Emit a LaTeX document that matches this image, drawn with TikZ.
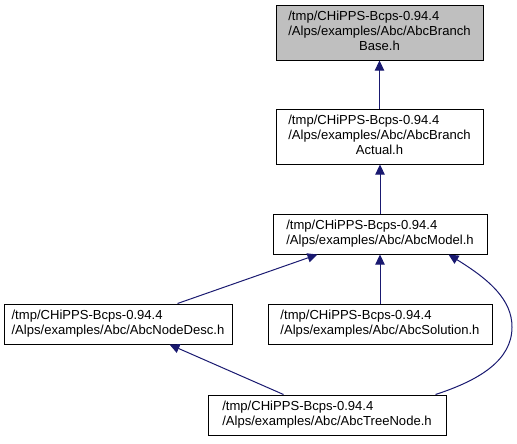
\documentclass[tikz,border=0pt]{standalone}
\usepackage{fontspec}
\setmainfont{Liberation Sans}
\usetikzlibrary{arrows.meta,calc}
\definecolor{edgeblue}{RGB}{25,25,112}
\definecolor{basegrey}{RGB}{191,191,191}
\tikzset{
  filebox/.style={draw=black, line width=0.75pt, rectangle, inner sep=0pt, font=\fontsize{9.8}{11.2}\selectfont},
  dep/.style={draw=edgeblue, line width=0.75pt, -{Triangle[length=7.5pt,width=7pt]}}
}
\begin{document}
\begin{tikzpicture}[x=0.75pt,y=-0.75pt]
\useasboundingbox (0,0) rectangle (517,443);
\node[filebox, fill=basegrey, minimum width=155.25pt, minimum height=41.25pt] (base) at (379.5,32.5)
  {\begin{tabular}{@{}l@{}}/tmp/CHiPPS-Bcps-0.94.4\\/Alps/examples/Abc/AbcBranch\\\multicolumn{1}{@{}c@{}}{Base.h}\end{tabular}};
\node[filebox, minimum width=155.25pt, minimum height=41.25pt] (actual) at (379.5,136.5)
  {\begin{tabular}{@{}l@{}}/tmp/CHiPPS-Bcps-0.94.4\\/Alps/examples/Abc/AbcBranch\\\multicolumn{1}{@{}c@{}}{Actual.h}\end{tabular}};
\node[filebox, minimum width=160.5pt, minimum height=30pt] (model) at (380,234)
  {\begin{tabular}{@{}l@{}}/tmp/CHiPPS-Bcps-0.94.4\\/Alps/examples/Abc/AbcModel.h\end{tabular}};
\node[filebox, minimum width=171pt, minimum height=30pt] (nodedesc) at (118,324)
  {\begin{tabular}{@{}l@{}}/tmp/CHiPPS-Bcps-0.94.4\\/Alps/examples/Abc/AbcNodeDesc.h\end{tabular}};
\node[filebox, minimum width=168pt, minimum height=30pt] (solution) at (380,324)
  {\begin{tabular}{@{}l@{}}/tmp/CHiPPS-Bcps-0.94.4\\/Alps/examples/Abc/AbcSolution.h\end{tabular}};
\node[filebox, minimum width=178.5pt, minimum height=30pt] (treenode) at (327,415)
  {\begin{tabular}{@{}l@{}}/tmp/CHiPPS-Bcps-0.94.4\\/Alps/examples/Abc/AbcTreeNode.h\end{tabular}};
\coordinate (bend) at (512,327);
\draw[dep] (actual.north) -- (base.south);
\draw[dep] (model.north) -- (model.north |- actual.south);
\draw[dep] (solution.north) -- (solution.north |- model.south);
\draw[dep] ($(nodedesc.north west)+(174,0)$) -- ($(model.south west)+(45,0)$);
\draw[dep] ($(treenode.north west)+(76,0)$) -- ($(nodedesc.south west)+(166,0)$);
\draw[dep] ($(treenode.north east)+(-11,0)$) .. controls (480,380) and (512,360) .. (bend)
  .. controls (512,300) and (490,280) .. ($(model.south east)+(-39,0)$);
\end{tikzpicture}
\end{document}
